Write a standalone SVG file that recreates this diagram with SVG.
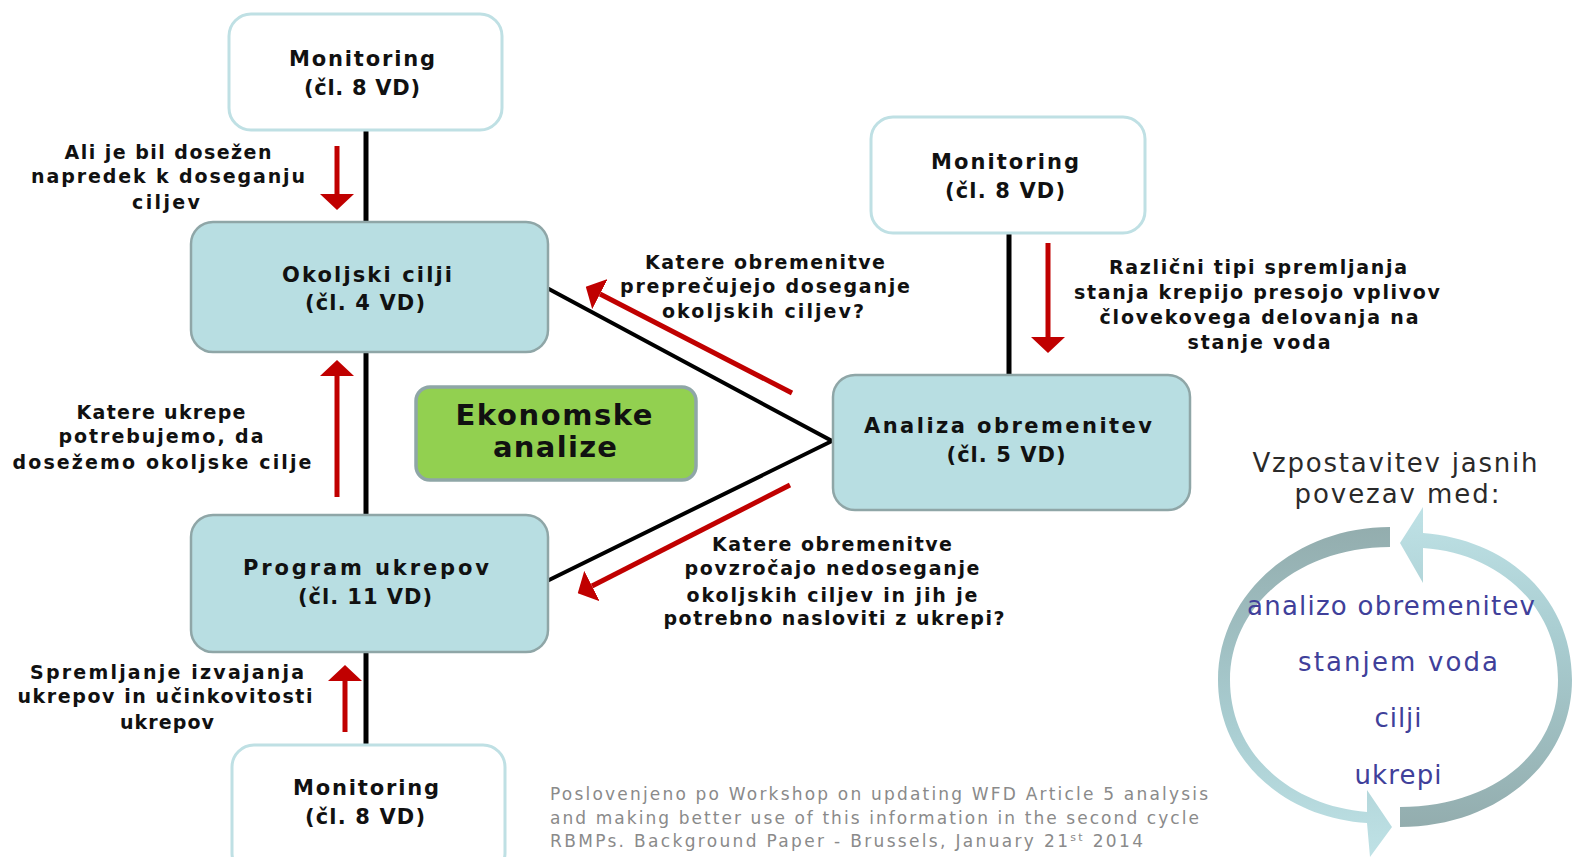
<svg xmlns="http://www.w3.org/2000/svg" width="1577" height="857" viewBox="0 0 1577 857">
<defs>
<style>
.box{fill:#b8dee2;stroke:#8fa6a7;stroke-width:2.5}
.mon{fill:#ffffff;stroke:#bfe0e4;stroke-width:3}
.eco{fill:#92d050;stroke:#8fa6a7;stroke-width:3.5}
.bt{font-family:"DejaVu Sans",Verdana,sans-serif;font-weight:bold;font-size:21px;fill:#111;text-anchor:middle}
.lb{font-family:"DejaVu Sans",Verdana,sans-serif;font-weight:bold;font-size:19px;fill:#111;text-anchor:middle}
.ek{font-family:"DejaVu Sans",Verdana,sans-serif;font-weight:bold;font-size:29px;fill:#111;text-anchor:middle}
.vz{font-family:"DejaVu Sans",Verdana,sans-serif;font-size:26px;fill:#2a2a2a;text-anchor:middle}
.ct{font-family:"DejaVu Sans",Verdana,sans-serif;font-size:26px;fill:#40409a;text-anchor:middle}
.fn{font-family:"DejaVu Sans",Verdana,sans-serif;font-size:17px;fill:#8a8a8a}
.blk{stroke:#000;stroke-width:5;fill:none}
.diag{stroke:#000;stroke-width:4;fill:none}
.red{stroke:#c00000;stroke-width:5;fill:none;marker-end:url(#rh)}
</style>
<marker id="rh" viewBox="0 0 16 34" markerWidth="16" markerHeight="34" refX="0" refY="17" orient="auto" markerUnits="userSpaceOnUse">
<path d="M0,0 L16,17 L0,34 Z" fill="#c00000"/>
</marker>
<linearGradient id="g1" x1="0" y1="527" x2="0" y2="857" gradientUnits="userSpaceOnUse">
<stop offset="0" stop-color="#93adae"/>
<stop offset="0.6" stop-color="#a9cdd1"/>
<stop offset="1" stop-color="#bfe2e6"/>
</linearGradient>
<linearGradient id="g2" x1="0" y1="827" x2="0" y2="507" gradientUnits="userSpaceOnUse">
<stop offset="0" stop-color="#93adae"/>
<stop offset="0.6" stop-color="#a9cdd1"/>
<stop offset="1" stop-color="#bfe2e6"/>
</linearGradient>
</defs>
<rect width="1577" height="857" fill="#ffffff"/>

<g id="connectors">
<line class="blk" x1="366" y1="130" x2="366" y2="222"/>
<line class="blk" x1="366" y1="352" x2="366" y2="515"/>
<line class="blk" x1="366" y1="652" x2="366" y2="745"/>
<line class="blk" x1="1009" y1="233" x2="1009" y2="375"/>
<polyline class="diag" points="547,288 832,441 547,581"/>
<line class="red" x1="337" y1="146" x2="337" y2="194"/>
<line class="red" x1="337" y1="497" x2="337" y2="376"/>
<line class="red" x1="345" y1="732" x2="345" y2="681"/>
<line class="red" x1="1048" y1="243" x2="1048" y2="337"/>
<line class="red" x1="792" y1="393" x2="600" y2="294"/>
<line class="red" x1="790" y1="485" x2="592" y2="586"/>
</g>

<g id="monitoring-top">
<rect class="mon" x="229" y="14" width="273" height="116" rx="22"/>
<text class="bt" x="362" y="66" textLength="146" lengthAdjust="spacing">Monitoring</text>
<text class="bt" x="362" y="95" textLength="116" lengthAdjust="spacing">(čl. 8 VD)</text>
</g>

<g id="okoljski-cilji">
<rect class="box" x="191" y="222" width="357" height="130" rx="22"/>
<text class="bt" x="367" y="282" textLength="170" lengthAdjust="spacing">Okoljski cilji</text>
<text class="bt" x="365" y="310" textLength="120" lengthAdjust="spacing">(čl. 4 VD)</text>
</g>

<g id="program-ukrepov">
<rect class="box" x="191" y="515" width="357" height="137" rx="22"/>
<text class="bt" x="366" y="575" textLength="246" lengthAdjust="spacing">Program ukrepov</text>
<text class="bt" x="365" y="604" textLength="134" lengthAdjust="spacing">(čl. 11 VD)</text>
</g>

<g id="monitoring-bottom">
<rect class="mon" x="232" y="745" width="273" height="130" rx="22"/>
<text class="bt" x="366" y="795" textLength="146" lengthAdjust="spacing">Monitoring</text>
<text class="bt" x="365" y="824" textLength="120" lengthAdjust="spacing">(čl. 8 VD)</text>
</g>

<g id="monitoring-right">
<rect class="mon" x="871" y="117" width="274" height="116" rx="22"/>
<text class="bt" x="1005" y="169" textLength="148" lengthAdjust="spacing">Monitoring</text>
<text class="bt" x="1005" y="198" textLength="120" lengthAdjust="spacing">(čl. 8 VD)</text>
</g>

<g id="analiza-obremenitev">
<rect class="box" x="833" y="375" width="357" height="135" rx="22"/>
<text class="bt" x="1008" y="433" textLength="288" lengthAdjust="spacing">Analiza obremenitev</text>
<text class="bt" x="1006" y="462" textLength="119" lengthAdjust="spacing">(čl. 5 VD)</text>
</g>

<g id="ekonomske-analize">
<rect class="eco" x="416" y="387" width="280" height="93" rx="14"/>
<text class="ek" x="554" y="425" textLength="197" lengthAdjust="spacing">Ekonomske</text>
<text class="ek" x="555" y="457" textLength="124" lengthAdjust="spacing">analize</text>
</g>

<g id="label-ali">
<text class="lb" x="168" y="159" textLength="207" lengthAdjust="spacing">Ali je bil dosežen</text>
<text class="lb" x="168" y="183" textLength="274" lengthAdjust="spacing">napredek k doseganju</text>
<text class="lb" x="166" y="209" textLength="68" lengthAdjust="spacing">ciljev</text>
</g>

<g id="label-katere-ukrepe">
<text class="lb" x="161" y="419" textLength="169" lengthAdjust="spacing">Katere ukrepe</text>
<text class="lb" x="161" y="443" textLength="205" lengthAdjust="spacing">potrebujemo, da</text>
<text class="lb" x="162" y="469" textLength="299" lengthAdjust="spacing">dosežemo okoljske cilje</text>
</g>

<g id="label-spremljanje">
<text class="lb" x="167" y="679" textLength="274" lengthAdjust="spacing">Spremljanje izvajanja</text>
<text class="lb" x="165" y="703" textLength="295" lengthAdjust="spacing">ukrepov in učinkovitosti</text>
<text class="lb" x="167" y="729" textLength="94" lengthAdjust="spacing">ukrepov</text>
</g>

<g id="label-preprecujejo">
<text class="lb" x="765" y="269" textLength="240" lengthAdjust="spacing">Katere obremenitve</text>
<text class="lb" x="765" y="293" textLength="290" lengthAdjust="spacing">preprečujejo doseganje</text>
<text class="lb" x="763" y="318" textLength="202" lengthAdjust="spacing">okoljskih ciljev?</text>
</g>

<g id="label-povzrocajo">
<text class="lb" x="832" y="551" textLength="240" lengthAdjust="spacing">Katere obremenitve</text>
<text class="lb" x="832" y="575" textLength="295" lengthAdjust="spacing">povzročajo nedoseganje</text>
<text class="lb" x="832" y="602" textLength="291" lengthAdjust="spacing">okoljskih ciljev in jih je</text>
<text class="lb" x="834" y="625" textLength="341" lengthAdjust="spacing">potrebno nasloviti z ukrepi?</text>
</g>

<g id="label-razlicni">
<text class="lb" x="1258" y="274" textLength="298" lengthAdjust="spacing">Različni tipi spremljanja</text>
<text class="lb" x="1257" y="299" textLength="366" lengthAdjust="spacing">stanja krepijo presojo vplivov</text>
<text class="lb" x="1259" y="324" textLength="319" lengthAdjust="spacing">človekovega delovanja na</text>
<text class="lb" x="1259" y="349" textLength="143" lengthAdjust="spacing">stanje voda</text>
</g>

<g id="cycle">
<path d="M1390,527 C1295,527 1218,595 1218,680 C1218,760 1285,818 1367,823 L1370,857 L1392,827 L1367,790 L1367,812 C1292,806 1230,755 1230,680 C1230,605 1300,547 1390,547 Z" fill="url(#g1)"/>
<path d="M1400,827 C1495,827 1572,765 1572,680 C1572,600 1510,540 1423,533 L1423,507 L1400,543 L1423,583 L1423,548 C1500,553 1558,608 1558,680 C1558,755 1490,807 1400,807 Z" fill="url(#g2)"/>
<text class="vz" x="1395" y="472" textLength="285" lengthAdjust="spacing">Vzpostavitev jasnih</text>
<text class="vz" x="1397" y="503" textLength="205" lengthAdjust="spacing">povezav med:</text>
<text class="ct" x="1391" y="615" textLength="288" lengthAdjust="spacing">analizo obremenitev</text>
<text class="ct" x="1398" y="671" textLength="200" lengthAdjust="spacing">stanjem voda</text>
<text class="ct" x="1398" y="727" textLength="47" lengthAdjust="spacing">cilji</text>
<text class="ct" x="1398" y="784" textLength="87" lengthAdjust="spacing">ukrepi</text>
</g>

<g id="footnote">
<text class="fn" x="550" y="800" textLength="658" lengthAdjust="spacing">Poslovenjeno po Workshop on updating WFD Article 5 analysis</text>
<text class="fn" x="550" y="824" textLength="649" lengthAdjust="spacing">and making better use of this information in the second cycle</text>
<text class="fn" x="550" y="847" textLength="593" lengthAdjust="spacing">RBMPs. Background Paper - Brussels, January 21<tspan font-size="11" dy="-6">st</tspan><tspan dy="6"> 2014</tspan></text>
</g>
</svg>
